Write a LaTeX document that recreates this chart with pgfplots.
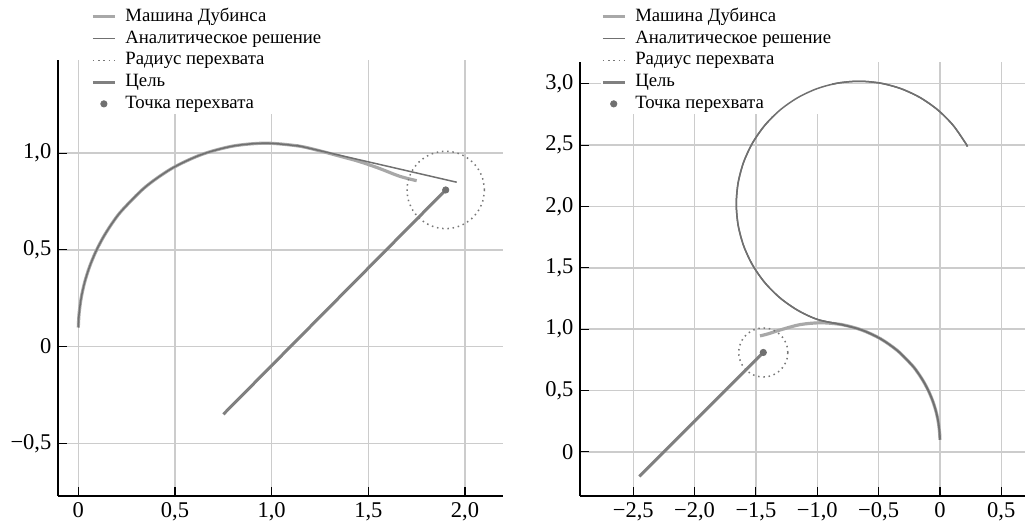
\documentclass[border=0pt]{standalone}
\usepackage{fontspec}
\setmainfont{Liberation Serif}
\usepackage{pgfplots}
\pgfplotsset{compat=1.18}
\definecolor{cDub}{RGB}{168,168,168}
\definecolor{cAna}{RGB}{112,112,112}
\definecolor{cRad}{RGB}{120,120,120}
\definecolor{cTgt}{RGB}{128,128,128}
\definecolor{cPt}{RGB}{112,112,112}
\definecolor{cGrid}{RGB}{204,204,204}
\pgfplotsset{
  myax/.style={
    scale only axis,
    axis x line*=bottom, axis y line*=left,
    axis line style={-, black, line width=0.6pt},
    tick align=inside,
    major tick length=5pt,
    tick style={black, line width=0.6pt},
    grid=major,
    major grid style={color=cGrid, line width=0.8pt},
    ticklabel style={font=\fontsize{12}{14}\selectfont},
    legend cell align=left,
    legend style={draw=none, fill=white, inner sep=0pt, at={(0,1)}, anchor=north west,
      column sep=4.3pt, row sep=1pt,
      nodes={inner sep=0.5pt, font=\fontsize{10}{12}\selectfont, text height=7.2pt, text depth=2.4pt}},
    legend image code/.code={\draw[##1] (0cm,0cm) -- (0.41cm,0cm);},
  },
  ptleg/.style={legend image code/.code={\draw[mark repeat=2,mark phase=2,##1] plot coordinates {(0cm,0cm) (0.205cm,0cm) (0.41cm,0cm)};}},
}
\pgfplotstableread{
x y
-0.0001 0.0989
-0.0037 0.1665
-0.0147 0.2504
-0.0330 0.3331
-0.0585 0.4138
-0.0909 0.4919
-0.1300 0.567
-0.1754 0.6384
-0.2269 0.7055
-0.3465 0.8251
-0.485 0.9221
-0.6382 0.9935
-0.8016 1.0373
-0.8167 1.0398
-1.0020 1.0803
-1.16 1.1540
-1.3028 1.2540
-1.4260 1.3772
-1.5260 1.52
-1.5997 1.6780
-1.6448 1.8464
-1.66 2.02
-1.6448 2.1937
-1.5997 2.3620
-1.5260 2.52
-1.4260 2.6628
-1.3028 2.7860
-1.16 2.8860
-1.0020 2.9597
-0.8337 3.0048
-0.66 3.02
-0.4864 3.0048
-0.3180 2.9597
-0.16 2.8860
-0.0172 2.7860
0.1060 2.6628
0.2060 2.52
0.2238 2.4879
}\anaR
\begin{document}
\begin{tikzpicture}
\path[use as bounding box] (-30.93pt,-16pt) rectangle (516.8pt,264.5pt);
% ---------- left ----------
\begin{axis}[myax, at={(0pt,0pt)}, anchor=south west,
  width=237.3pt, height=232.5pt,
  xmin=-0.105, xmax=2.196, ymin=-0.772, ymax=1.482,
  xtick={0,0.5,1,1.5,2}, xticklabels={0,{0,5},{1,0},{1,5},{2,0}},
  ytick={-0.5,0,0.5,1}, yticklabels={{−0,5},0,{0,5},{1,0}},
  legend style={xshift=17.6pt, yshift=28.5pt}]
\addplot[color=cDub, line width=1.7pt, smooth] coordinates {
(0.0001,0.0989) (0.0037,0.1665) (0.0147,0.2504) (0.0330,0.3331) (0.0585,0.4138)
(0.0909,0.4919) (0.1300,0.567) (0.1754,0.6384) (0.2269,0.7055) (0.3465,0.8251)
(0.485,0.9221) (0.6382,0.9935) (0.8016,1.0373) (0.97,1.052) (1.1384,1.0373)
(1.25,1.012) (1.355,0.984) (1.45,0.958) (1.55,0.924) (1.65,0.885) (1.7,0.870) (1.75,0.858)};
\addlegendentry{Машина Дубинса}
\addplot[color=cAna, line width=0.8pt, smooth] coordinates {
(0.0001,0.0989) (0.0037,0.1665) (0.0147,0.2504) (0.0330,0.3331) (0.0585,0.4138)
(0.0909,0.4919) (0.1300,0.567) (0.1754,0.6384) (0.2269,0.7055) (0.3465,0.8251)
(0.485,0.9221) (0.6382,0.9935) (0.8016,1.0373) (0.97,1.052) (1.1384,1.0373)
(1.1882,1.0271) (1.957,0.85)};
\addlegendentry{Аналитическое решение}
\addplot[color=cRad, line width=0.8pt, dotted, smooth] coordinates {
(2.10,0.81) (2.0932,0.8618) (2.0732,0.91) (2.0414,0.9514) (2.00,0.9832) (1.9518,1.0032)
(1.90,1.01) (1.8482,1.0032) (1.80,0.9832) (1.7586,0.9514) (1.7268,0.91) (1.7068,0.8618)
(1.70,0.81) (1.7068,0.7582) (1.7268,0.71) (1.7586,0.6686) (1.80,0.6368) (1.8482,0.6168)
(1.90,0.61) (1.9518,0.6168) (2.00,0.6368) (2.0414,0.6686) (2.0732,0.71) (2.0932,0.7582)
(2.10,0.81)};
\addlegendentry{Радиус перехвата}
\addplot[color=cTgt, line width=1.6pt] coordinates {(0.75,-0.35) (1.90,0.81)};
\addlegendentry{Цель}
\addplot[ptleg, only marks, mark=*, mark size=1.7pt, color=cPt] coordinates {(1.90,0.81)};
\addlegendentry{Точка перехвата}
\end{axis}
% ---------- right ----------
\begin{axis}[myax, at={(278.4pt,0pt)}, anchor=south west,
  width=237.3pt, height=231.5pt,
  xmin=-2.934, xmax=0.693, ymin=-0.359, ymax=3.178,
  xtick={-2.5,-2,-1.5,-1,-0.5,0,0.5}, xticklabels={{−2,5},{−2,0},{−1,5},{−1,0},{−0,5},0,{0,5}},
  ytick={0,0.5,1,1.5,2,2.5,3}, yticklabels={0,{0,5},{1,0},{1,5},{2,0},{2,5},{3,0}},
  legend style={xshift=11.1pt, yshift=29.5pt}]
\addplot[color=cDub, line width=1.7pt, smooth] coordinates {
(-0.0001,0.0989) (-0.0037,0.1665) (-0.0147,0.2504) (-0.0330,0.3331) (-0.0585,0.4138)
(-0.0909,0.4919) (-0.1300,0.567) (-0.1754,0.6384) (-0.2269,0.7055) (-0.3465,0.8251)
(-0.485,0.9221) (-0.6382,0.9935) (-0.8016,1.0373) (-0.97,1.052) (-1.1384,1.0373)
(-1.3018,0.9935) (-1.40,0.962) (-1.467,0.945)};
\addlegendentry{Машина Дубинса}
\addplot[color=cAna, line width=0.8pt, smooth] table {\anaR};
\addlegendentry{Аналитическое решение}
\addplot[color=cRad, line width=0.8pt, dotted, smooth] coordinates {
(-1.24,0.81) (-1.2468,0.8618) (-1.2668,0.91) (-1.2986,0.9514) (-1.34,0.9832) (-1.3882,1.0032)
(-1.44,1.01) (-1.4918,1.0032) (-1.54,0.9832) (-1.5814,0.9514) (-1.6132,0.91) (-1.6332,0.8618)
(-1.64,0.81) (-1.6332,0.7582) (-1.6132,0.71) (-1.5814,0.6686) (-1.54,0.6368) (-1.4918,0.6168)
(-1.44,0.61) (-1.3882,0.6168) (-1.34,0.6368) (-1.2986,0.6686) (-1.2668,0.71) (-1.2468,0.7582)
(-1.24,0.81)};
\addlegendentry{Радиус перехвата}
\addplot[color=cTgt, line width=1.6pt] coordinates {(-2.45,-0.20) (-1.44,0.81)};
\addlegendentry{Цель}
\addplot[ptleg, only marks, mark=*, mark size=1.7pt, color=cPt] coordinates {(-1.44,0.81)};
\addlegendentry{Точка перехвата}
\end{axis}
% overlay: analytic curve above the legend box
\begin{axis}[scale only axis, at={(278.4pt,0pt)}, anchor=south west,
  width=237.3pt, height=231.5pt,
  xmin=-2.934, xmax=0.693, ymin=-0.359, ymax=3.178,
  axis lines=none, ticks=none]
\addplot[color=cAna, line width=0.8pt, smooth] table {\anaR};
\end{axis}
\end{tikzpicture}
\end{document}
